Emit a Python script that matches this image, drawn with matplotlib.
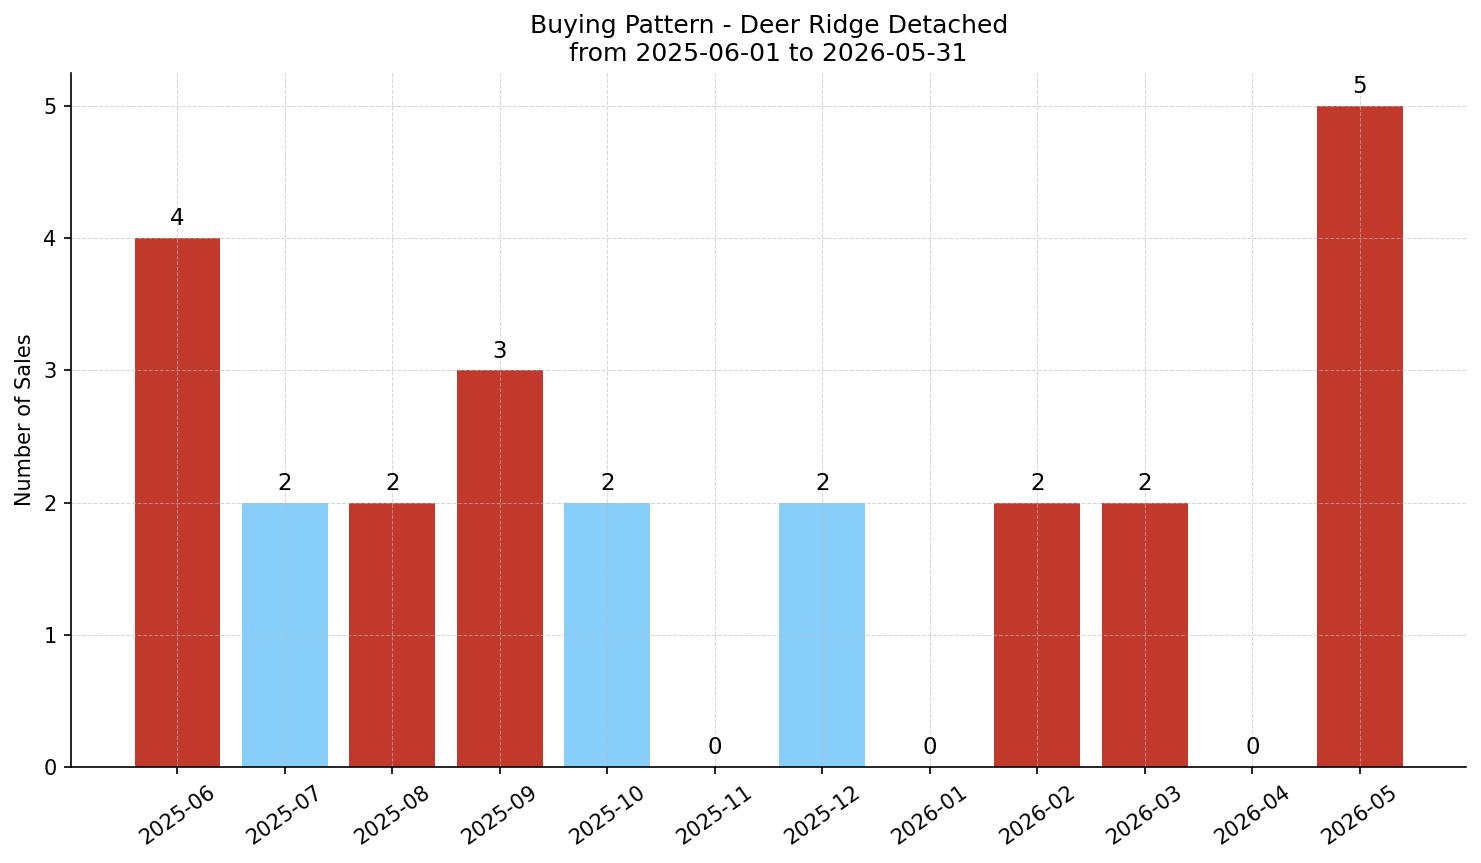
import matplotlib
matplotlib.use("Agg")
import matplotlib.pyplot as plt

plt.rcParams['font.family'] = ['DejaVu Sans']

months = ["2025-06", "2025-07", "2025-08", "2025-09", "2025-10", "2025-11",
          "2025-12", "2026-01", "2026-02", "2026-03", "2026-04", "2026-05"]
sales = [4, 2, 2, 3, 2, 0, 2, 0, 2, 2, 0, 5]
# True = red bar, False = light blue bar
highlight = [True, False, True, True, False, False,
             False, False, True, True, False, True]

red = "#c0392b"
blue = "#87cefa"
colors = [red if h else blue for h in highlight]

fig, ax = plt.subplots(figsize=(14.81 / 1.5, 8.63 / 1.5), dpi=150)
fig.subplots_adjust(left=0.048, right=0.990, top=0.9154, bottom=0.1112)

x = list(range(len(months)))
ax.bar(x, sales, color=colors, width=0.8)

for i, v in zip(x, sales):
    ax.text(i, v + 0.06, str(v), ha="center", va="bottom", fontsize=11)

ax.set_xticks(x)
ax.set_xticklabels(months, rotation=35, ha="center", fontsize=10)
ax.tick_params(axis="y", labelsize=10)
ax.set_ylim(0, 5.25)
ax.set_ylabel("Number of Sales", fontsize=10)
ax.set_title("Buying Pattern - Deer Ridge Detached\nfrom 2025-06-01 to 2026-05-31",
             fontsize=12)
ax.grid(True, linestyle="--", linewidth=0.5, color="#bbbbbb", alpha=0.6)
ax.spines["top"].set_visible(False)
ax.spines["right"].set_visible(False)

fig.savefig("out.png", dpi=150)
